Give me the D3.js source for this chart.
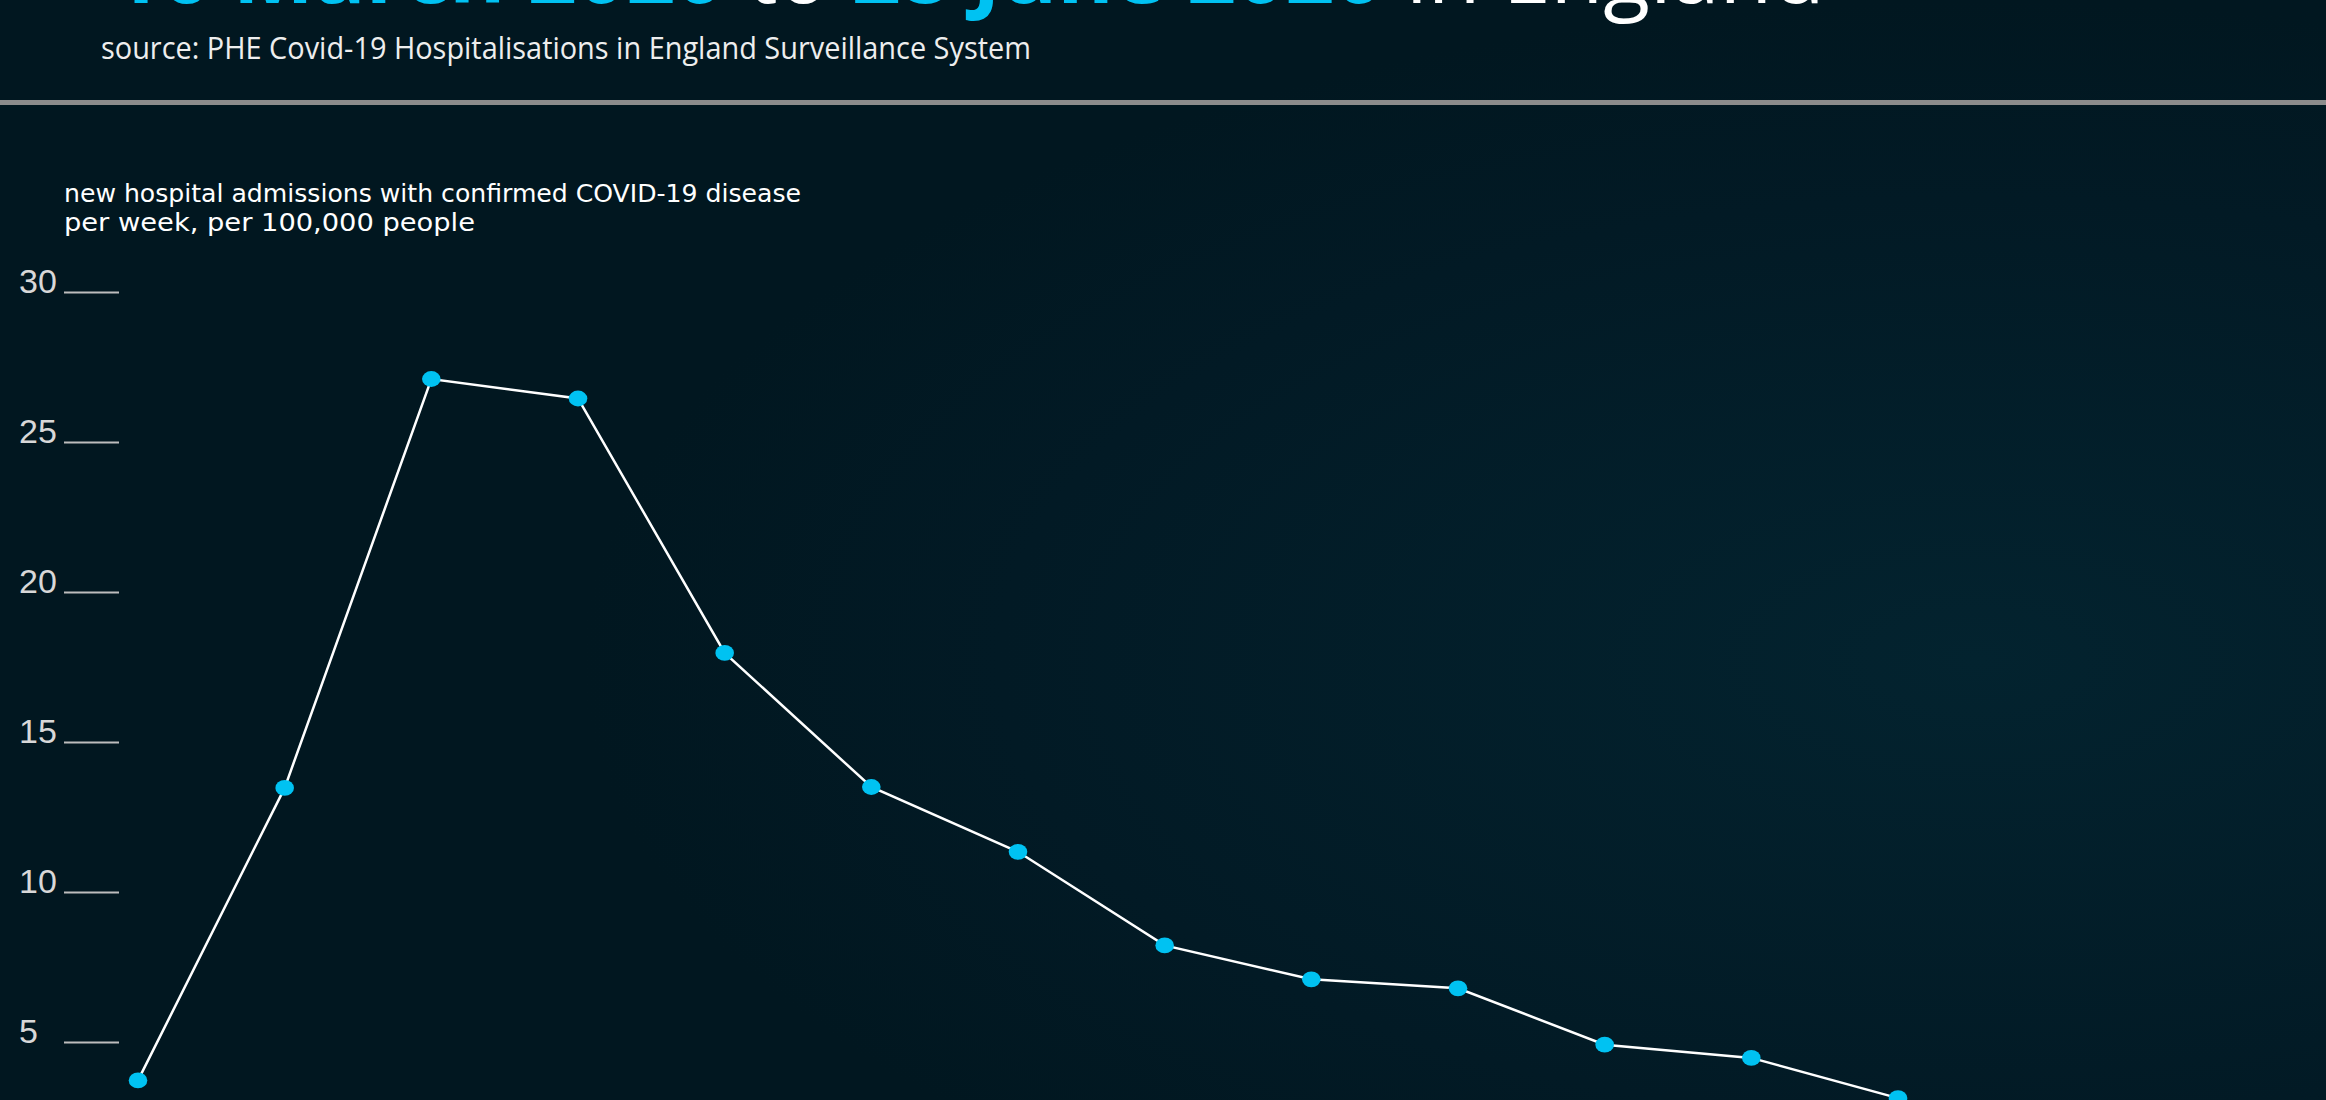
<!DOCTYPE html>
<html>
<head>
<meta charset="utf-8">
<script src="https://cdn.jsdelivr.net/npm/d3@7"></script>
<style>
  html, body { margin: 0; padding: 0; background: #011822; overflow: hidden; }
  svg { display: block; }
</style>
</head>
<body>
<svg id="chart" width="2326" height="1100"></svg>
<script>
// ---- data ----
const weeks = ["16 Mar", "23 Mar", "30 Mar", "6 Apr", "13 Apr", "20 Apr", "27 Apr",
               "4 May", "11 May", "18 May", "25 May", "1 Jun", "8 Jun"];
const admissions = [3.72, 13.47, 27.1, 26.45, 17.97, 13.5, 11.34, 8.22, 7.09, 6.79, 4.91, 4.47, 3.13];
const yTicks = [5, 10, 15, 20, 25, 30];
const titleParts = [
  { text: "16 March 2020", hi: true },
  { text: " to ", hi: false },
  { text: "28 June 2020", hi: true },
  { text: " in England", hi: false }
];
const subtitle = "source: PHE Covid-19 Hospitalisations in England Surveillance System";
const axisTitle = ["new hospital admissions with confirmed COVID-19 disease", "per week, per 100,000 people"];

// ---- setup ----
const W = 2326, H = 1100;
const svg = d3.select("#chart");
const CYAN = "#00c2f2";

const defs = svg.append("defs");
const grad = defs.append("radialGradient").attr("id", "bg")
  .attr("cx", "0.85").attr("cy", "0.6").attr("r", "0.6");
grad.append("stop").attr("offset", "0").attr("stop-color", "#03232f");
grad.append("stop").attr("offset", "0.7").attr("stop-color", "#021a25");
grad.append("stop").attr("offset", "1").attr("stop-color", "#011720");
svg.append("rect").attr("width", W).attr("height", H).attr("fill", "url(#bg)");

// title (cut off at top)
const title = svg.append("text")
  .attr("x", 112).attr("y", 3)
  .attr("font-family", "'Open Sans', sans-serif")
  .attr("font-size", 86);
title.selectAll("tspan").data(titleParts).join("tspan")
  .attr("fill", d => d.hi ? CYAN : "#ffffff")
  .attr("font-weight", d => d.hi ? 700 : 400)
  .text(d => d.text);

svg.append("text")
  .attr("x", 101).attr("y", 59)
  .attr("font-family", "'Open Sans', sans-serif")
  .attr("font-size", 31)
  .attr("fill", "#eeeeee")
  .attr("textLength", 930).attr("lengthAdjust", "spacingAndGlyphs")
  .text(subtitle);

// rule
svg.append("rect").attr("x", 0).attr("y", 100).attr("width", W).attr("height", 5).attr("fill", "#8c8c8c");

// axis title (two lines)
const axisLens = [737, 411];
svg.selectAll("text.atitle").data(axisTitle).join("text")
  .attr("class", "atitle")
  .attr("x", 64).attr("y", (d, i) => 202 + i * 29)
  .attr("font-family", "'DejaVu Sans Condensed', 'DejaVu Sans', sans-serif")
  .attr("font-size", 24)
  .attr("fill", "#ffffff")
  .attr("textLength", (d, i) => axisLens[i]).attr("lengthAdjust", "spacingAndGlyphs")
  .text(d => d);

// scales
const x = d3.scalePoint().domain(weeks).range([138, 1898]);
const y = d3.scaleLinear().domain([0, 30]).range([1192, 292]);

// y axis
const yAxis = d3.axisRight(y).tickValues(yTicks).tickSize(55).tickFormat(d3.format("d"));
const gy = svg.append("g").attr("transform", "translate(64,0)").call(yAxis);
gy.select(".domain").remove();
gy.selectAll(".tick line").attr("stroke", "#bdbdbd").attr("stroke-width", 2);
gy.selectAll(".tick text")
  .attr("x", -45).attr("dy", 0).attr("text-anchor", "start")
  .attr("font-family", "'Liberation Sans', Arial, sans-serif")
  .attr("font-size", 34)
  .attr("fill", "#d8d8d8");

// line
const pts = weeks.map((w, i) => ({ w, v: admissions[i] }));
svg.append("path").datum(pts)
  .attr("fill", "none").attr("stroke", "#ffffff").attr("stroke-width", 2.5)
  .attr("d", d3.line().x(d => x(d.w)).y(d => y(d.v)));

svg.selectAll("ellipse.pt").data(pts).join("ellipse")
  .attr("class", "pt")
  .attr("cx", d => x(d.w)).attr("cy", d => y(d.v))
  .attr("rx", 9.3).attr("ry", 7.9)
  .attr("fill", CYAN);
</script>
</body>
</html>
